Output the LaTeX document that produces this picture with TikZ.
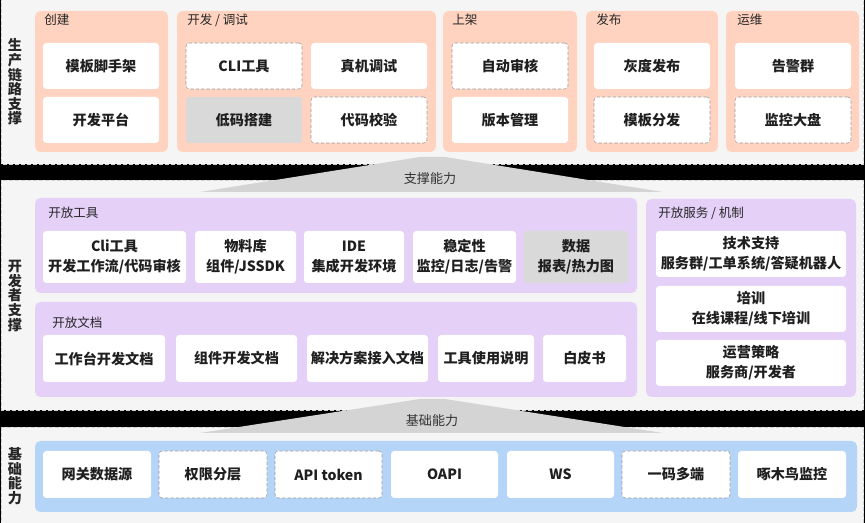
\documentclass[tikz,border=0pt]{standalone}
\usepackage{fontspec}
\setmainfont{Noto Sans CJK SC}

\definecolor{panelbg}{HTML}{F5F5F5}
\definecolor{panelln}{HTML}{D2D2D2}
\definecolor{salmon}{HTML}{FFD3BF}
\definecolor{lilac}{HTML}{E5D0F8}
\definecolor{skyblue}{HTML}{B5D5F8}
\definecolor{lowcode}{HTML}{D9D9D9}
\definecolor{trapgrey}{HTML}{D4D4D4}

\tikzset{
  box/.style 2 args={fill=white, rounded corners=2.5pt, inner sep=0pt,
    minimum width=#1*0.75pt, minimum height=#2*0.75pt, align=center,
    font=\bfseries\fontsize{10.6}{15}\selectfont, text=black!88},
  dbox/.style 2 args={box={#1}{#2}, draw=black!40, dashed, dash pattern=on 2.5pt off 1.5pt},
  gbox/.style 2 args={box={#1}{#2}, fill=lowcode},
  grptitle/.style={anchor=west, inner sep=0pt, font=\fontsize{9.4}{11}\selectfont, text=black!85},
  layerlbl/.style={inner sep=0pt, align=center, font=\bfseries\fontsize{10.6}{10.9}\selectfont, text=black!85},
  panel/.style={fill=panelbg, draw=panelln, dashed, dash pattern=on 3pt off 1.5pt},
}

\begin{document}
\begin{tikzpicture}[x=0.75pt,y=0.75pt,yscale=-1,xscale=1]
\useasboundingbox (0,0) rectangle (865,523);
\clip (0,0) rectangle (865,523);
\fill [black] (0,0) rectangle (865,523);

%Layer panels
\draw [panel] (1.5,-3) rectangle (863.5,164);
\draw [panel] (1.5,180) rectangle (863.5,410);
\draw [panel] (1.5,427) rectangle (863.5,530);

%Support arrows
\fill [trapgrey] (200,192) -- (420,157) -- (445,157) -- (663,192) -- cycle;
\fill [trapgrey] (200,433) -- (420,399) -- (445,399) -- (663,433) -- cycle;
\node [inner sep=0pt, font=\fontsize{9.8}{11}\selectfont, text=black!80] (zcnl) at (430,179) {支撑能力};
\node [inner sep=0pt, font=\fontsize{9.8}{11}\selectfont, text=black!80] (jcnl) at (432,421) {基础能力};

% Layer labels
\node [layerlbl] (l-sc) at (15,82) {生\\产\\链\\路\\支\\撑};
\node [layerlbl] (l-kf) at (15,296) {开\\发\\者\\支\\撑};
\node [layerlbl] (l-jc) at (15,476) {基\\础\\能\\力};

%Production chain groups
\fill [salmon, rounded corners=4pt] (35,11) rectangle (168,152);
\fill [salmon, rounded corners=4pt] (177,11) rectangle (436,152);
\fill [salmon, rounded corners=4pt] (443,11) rectangle (577,152);
\fill [salmon, rounded corners=4pt] (586,11) rectangle (718,152);
\fill [salmon, rounded corners=4pt] (726,11) rectangle (859,152);
\node [grptitle] (t-cj) at (44,20) {创建};
\node [grptitle] (t-ts) at (187,20) {开发 / 调试};
\node [grptitle] (t-sj) at (452,20) {上架};
\node [grptitle] (t-fb) at (596,20) {发布};
\node [grptitle] (t-yw) at (737,20) {运维};

\node [box={116}{46}] (mbjsj) at (101,66) {模板脚手架};
\node [box={116}{46}] (kfpt) at (101,120) {开发平台};
\node [dbox={116}{46}] (cli) at (244,66) {CLI工具};
\node [box={116}{46}] (zjts) at (369,66) {真机调试};
\node [gbox={116}{46}] (dmdj) at (244,120) {低码搭建};
\node [dbox={116}{46}] (dmjy) at (369,120) {代码校验};
\node [dbox={116}{46}] (zdsh) at (510,66) {自动审核};
\node [box={116}{46}] (bbgl) at (510,120) {版本管理};
\node [box={116}{46}] (hdfb) at (652,66) {灰度发布};
\node [dbox={116}{46}] (mbff) at (652,120) {模板分发};
\node [box={116}{46}] (gjq) at (793,66) {告警群};
\node [dbox={116}{46}] (jkdp) at (793,120) {监控大盘};

%Developer support groups
\fill [lilac, rounded corners=4pt] (35,198) rectangle (637,293);
\fill [lilac, rounded corners=4pt] (35,302) rectangle (637,397);
\fill [lilac, rounded corners=4pt] (646,199) rectangle (856,397);
\node [grptitle] (t-kfgj) at (48,213) {开放工具};
\node [grptitle] (t-kfwd) at (52,323) {开放文档};
\node [grptitle] (t-kffw) at (658,213) {开放服务 / 机制};

\node [box={143}{52}] (cligj) at (114.5,257) {Cli工具\\开发工作流/代码审核};
\node [box={101}{52}] (wlk) at (245.5,257) {物料库\\组件/JSSDK};
\node [box={100}{52}] (ide) at (354,257) {IDE\\集成开发环境};
\node [box={103}{52}] (wdx) at (464.5,257) {稳定性\\监控/日志/告警};
\node [gbox={104}{52}] (sj) at (576,257) {数据\\报表/热力图};

\node [box={122}{47}] (gztwd) at (104,358.5) {工作台开发文档};
\node [box={121}{47}] (zjwd) at (236.5,358.5) {组件开发文档};
\node [box={121}{47}] (jjfa) at (367.5,358.5) {解决方案接入文档};
\node [box={96}{47}] (gjsm) at (486,358.5) {工具使用说明};
\node [box={83}{47}] (bps) at (584.5,358.5) {白皮书};

\node [box={190}{46}] (jszc) at (751,254) {技术支持\\服务群/工单系统/答疑机器人};
\node [box={190}{46}] (px) at (751,309) {培训\\在线课程/线下培训};
\node [box={190}{46}] (yycl) at (751,363) {运营策略\\服务商/开发者};

%Base capability group
\fill [skyblue, rounded corners=4pt] (35,441) rectangle (857,512);
\node [box={108}{47}] (wgsjy) at (97,474.5) {网关数据源};
\node [dbox={108}{47}] (qxfc) at (213,474.5) {权限分层};
\node [dbox={107}{47}] (apitk) at (328.5,474.5) {API token};
\node [box={107}{47}] (oapi) at (444.5,474.5) {OAPI};
\node [box={107}{47}] (ws) at (560.5,474.5) {WS};
\node [dbox={108}{47}] (ymdd) at (676,474.5) {一码多端};
\node [box={108}{47}] (zmnjk) at (792,474.5) {啄木鸟监控};
\end{tikzpicture}
\end{document}
